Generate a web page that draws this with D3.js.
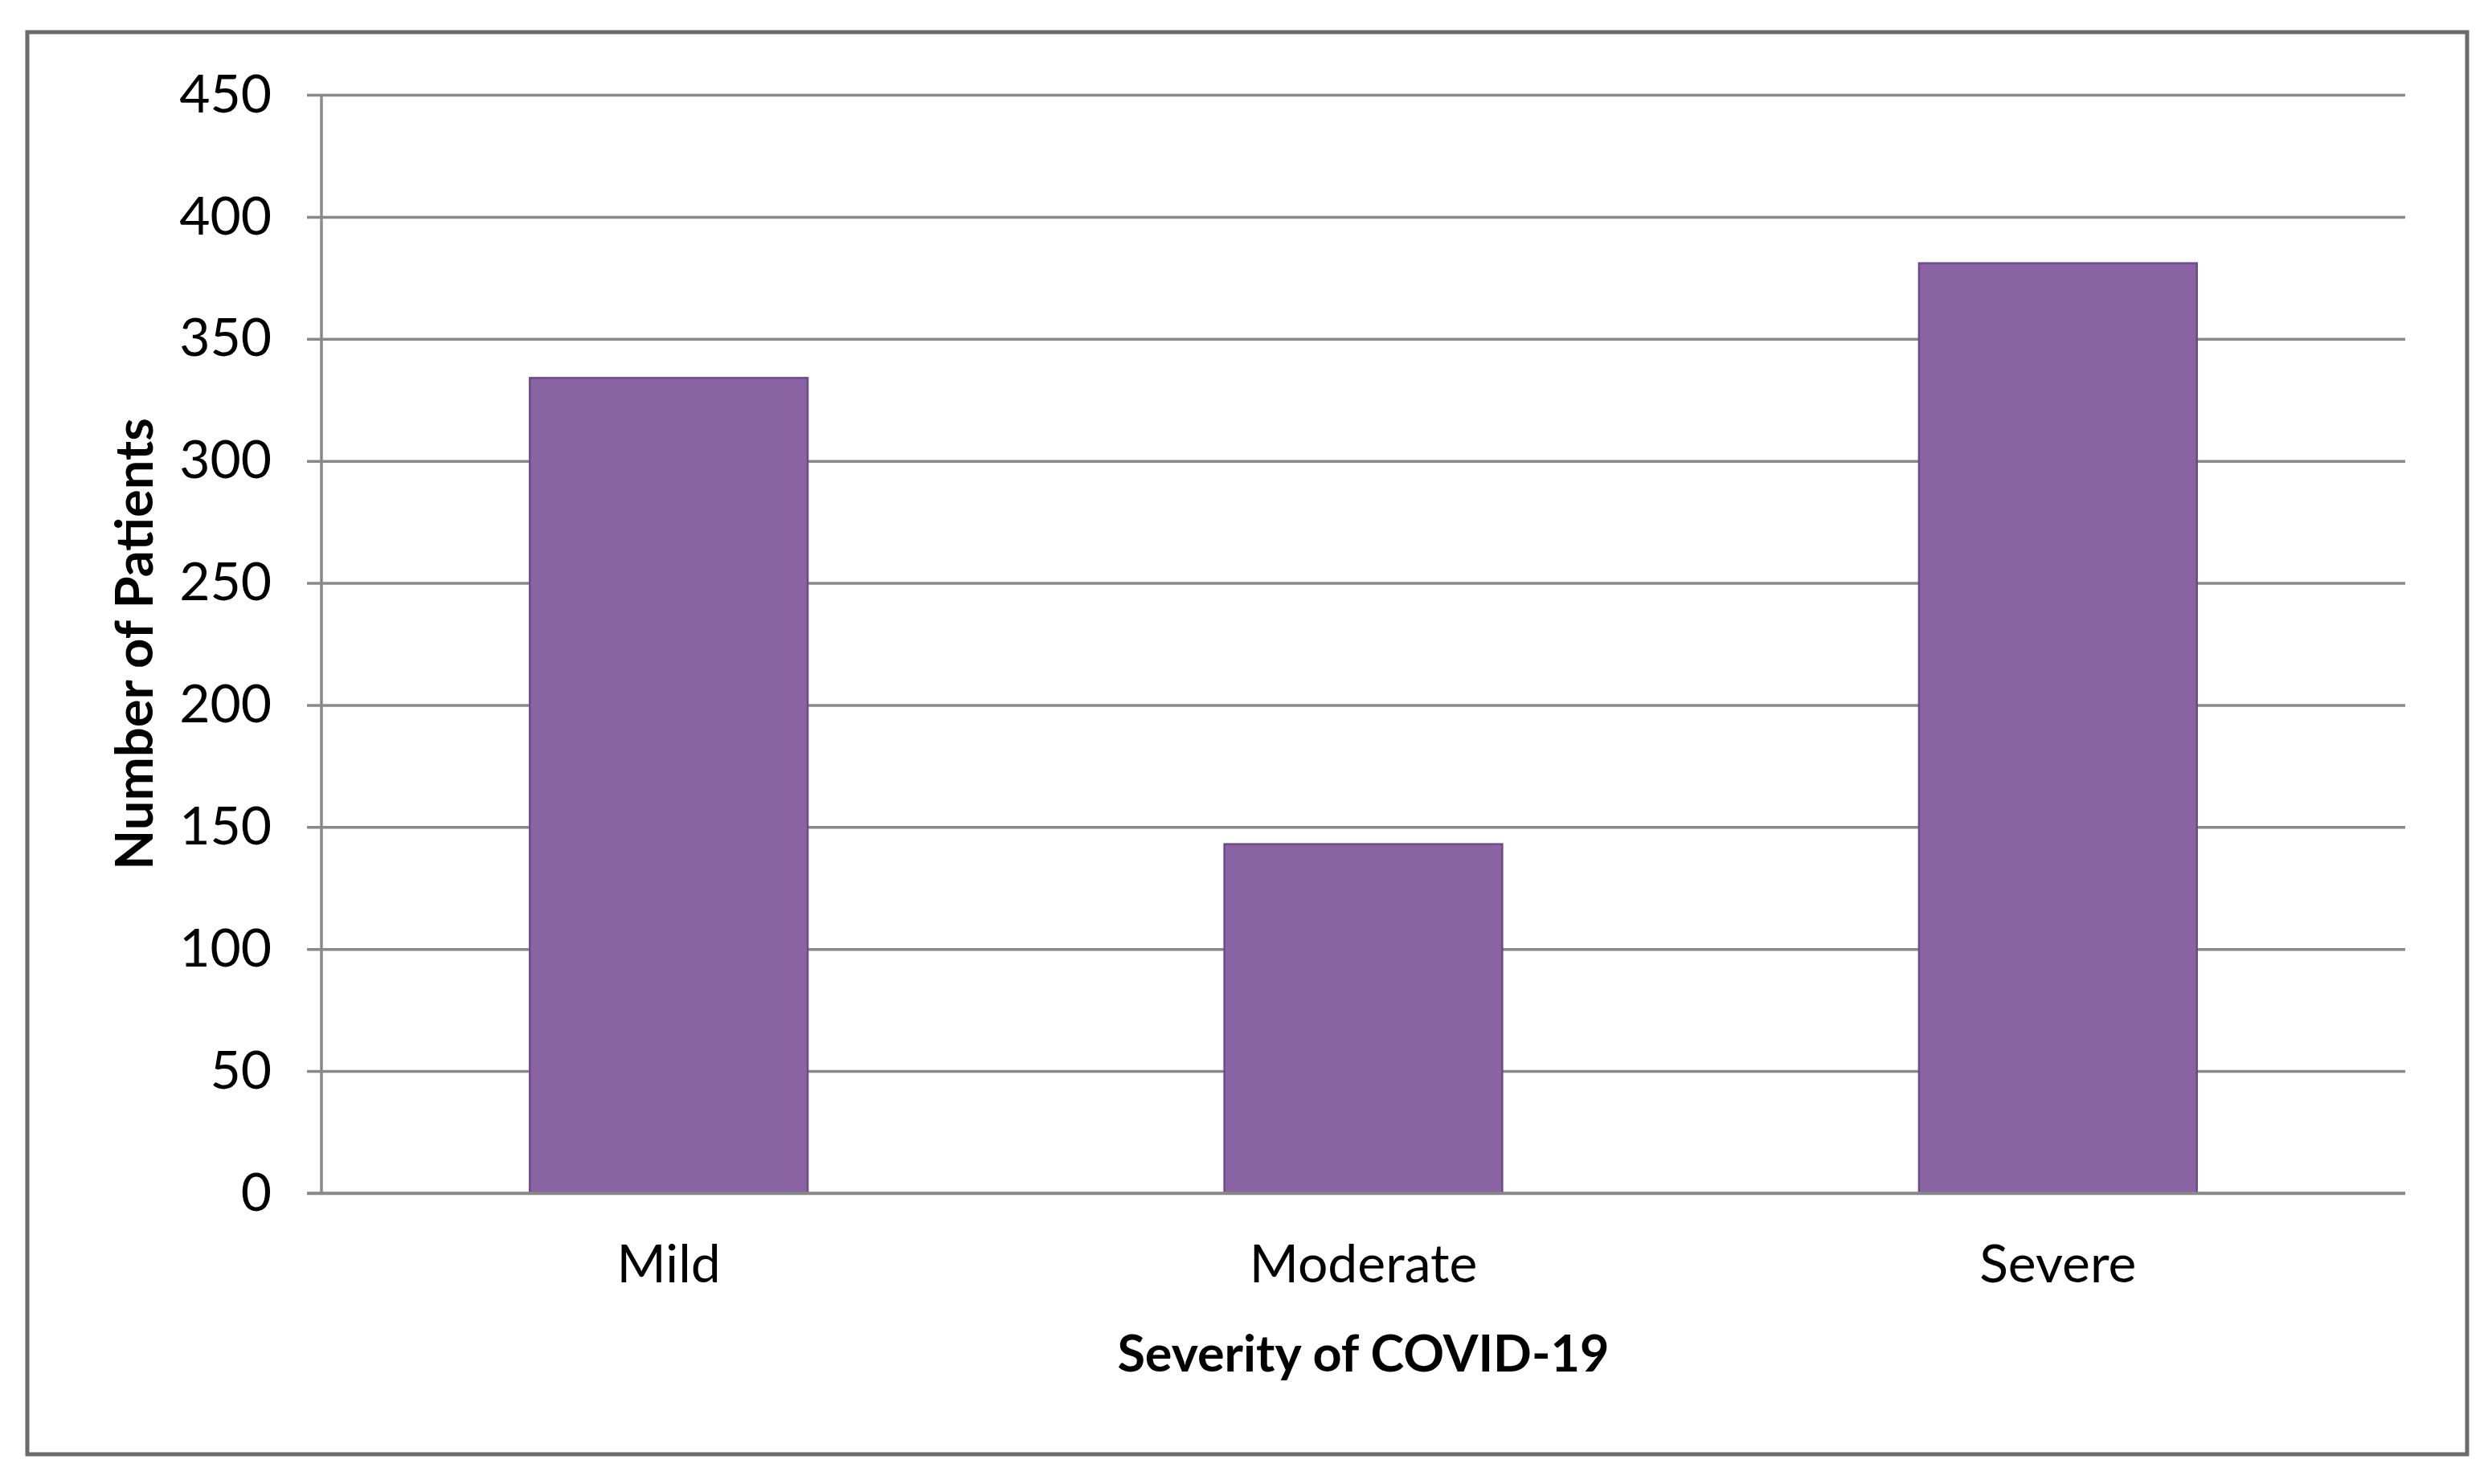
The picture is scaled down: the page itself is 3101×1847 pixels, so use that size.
<!DOCTYPE html>
<html>
<head>
<meta charset="utf-8">
<script src="https://cdn.jsdelivr.net/npm/d3@7"></script>
<style>
  body { margin: 0; background: #fff; }
  svg text { font-family: Lato, "Open Sans", sans-serif; fill: #000; }
</style>
</head>
<body>
<div id="chart"></div>
<script>
// data
const categories = ['Mild', 'Moderate', 'Severe'];
const patients = [334, 143, 381];
const yTicks = [0, 50, 100, 150, 200, 250, 300, 350, 400, 450];
const xTitle = 'Severity of COVID-19';
const yTitle = 'Number of Patients';

const width = 3101, height = 1847;
const margin = { top: 118, right: 108, bottom: 362, left: 400 };
const innerW = width - margin.left - margin.right,
    innerH = height - margin.top - margin.bottom;

const svg = d3.select('#chart').append('svg')
    .attr('width', width)
    .attr('height', height);

// outer frame
svg.append('rect')
    .attr('x', 34).attr('y', 40)
    .attr('width', 3036).attr('height', 1770)
    .attr('fill', 'none')
    .attr('stroke', '#6b6b6b')
    .attr('stroke-width', 5);

const g = svg.append('g').attr('transform', `translate(${margin.left},${margin.top})`);

const x = d3.scaleBand().domain(categories).range([0, innerW])
    .paddingInner(0.6).paddingOuter(0.3);
const y = d3.scaleLinear().domain([0, 450]).range([innerH, 0]);

// gridlines + tick marks
const yAxis = g.append('g')
    .call(d3.axisLeft(y).tickValues(yTicks).tickSize(-innerW).tickSizeOuter(0).tickPadding(62));
yAxis.select('.domain').remove();
yAxis.selectAll('.tick line')
    .attr('x1', -18)
    .attr('stroke', '#888')
    .attr('stroke-width', 3.5);
yAxis.selectAll('.tick text')
    .style('font-size', '66px');

// y axis line
g.append('line')
    .attr('x1', 0).attr('x2', 0)
    .attr('y1', 0).attr('y2', innerH)
    .attr('stroke', '#888')
    .attr('stroke-width', 3.5);

// bars
g.selectAll('rect.bar').data(patients).enter()
    .append('rect')
    .attr('class', 'bar')
    .attr('x', (d, i) => x(categories[i]))
    .attr('y', d => y(d))
    .attr('width', x.bandwidth())
    .attr('height', d => y(0) - y(d))
    .attr('fill', '#8a63a3')
    .attr('stroke', '#6e4a8c')
    .attr('stroke-width', 2.5);

// category labels
const xAxis = g.append('g')
    .attr('transform', `translate(0,${innerH})`)
    .call(d3.axisBottom(x).tickSize(0).tickPadding(64));
xAxis.select('.domain').remove();
xAxis.selectAll('.tick text').style('font-size', '66px');

// baseline on top of bars
g.append('line')
    .attr('x1', -18).attr('x2', innerW)
    .attr('y1', innerH).attr('y2', innerH)
    .attr('stroke', '#888')
    .attr('stroke-width', 3.5);

// axis titles
g.append('text')
    .attr('x', innerW / 2)
    .attr('y', innerH + 222)
    .attr('text-anchor', 'middle')
    .style('font-size', '63px')
    .style('font-weight', 'bold')
    .text(xTitle);

g.append('text')
    .attr('transform', `translate(${168 - margin.left + 22},${innerH / 2}) rotate(-90)`)
    .attr('text-anchor', 'middle')
    .style('font-size', '65px')
    .style('font-weight', 'bold')
    .text(yTitle);
</script>
</body>
</html>
